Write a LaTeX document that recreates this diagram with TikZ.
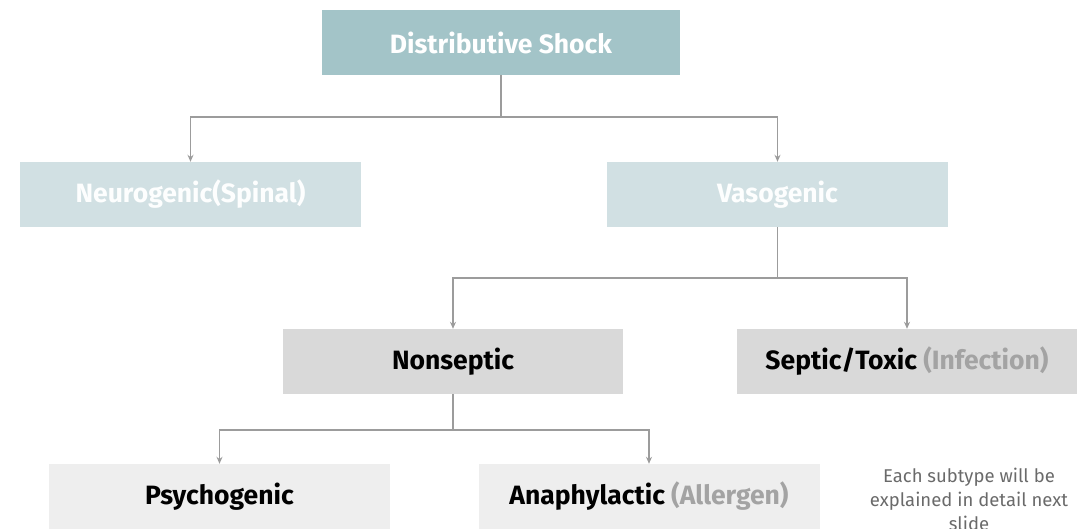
\documentclass[tikz,border=0pt]{standalone}
\usepackage{fontspec}
\setmainfont{Fira Sans}
\usetikzlibrary{arrows.meta}
\definecolor{tealbox}{HTML}{A3C4C8}
\definecolor{lightteal}{HTML}{D1E0E3}
\definecolor{midgray}{HTML}{D9D9D9}
\definecolor{palegray}{HTML}{EEEEEE}
\definecolor{linegray}{HTML}{9C9C9C}
\definecolor{softtext}{HTML}{A3A3A3}
\definecolor{notetext}{HTML}{6A6A6A}
\begin{document}
\begin{tikzpicture}[x=1pt,y=-1pt,
  box/.style={rectangle, minimum height=65pt, inner sep=0pt, font=\fontsize{26.5}{30}\selectfont\bfseries},
  topbox/.style={box, fill=tealbox, text=white, minimum width=358pt},
  midbox/.style={box, fill=lightteal, text=white!96!lightteal, minimum width=341pt},
  lowbox/.style={box, fill=midgray, text=black, minimum width=340pt},
  leafbox/.style={box, fill=palegray, text=black, minimum width=341pt},
  conn/.style={draw=linegray, line width=1.4pt, -{Stealth[length=7pt,width=6pt]}},
  note/.style={align=center, text=notetext, font=\fontsize{18.5}{24}\selectfont}
]
\useasboundingbox (0,0) rectangle (1079,529);

\node[topbox] (ds) at (501,42.5) {Distributive Shock};
\node[midbox] (neu) at (190.5,194.5) {Neurogenic(Spinal)};
\node[midbox] (vaso) at (777.5,194.5) {Vasogenic};
\node[lowbox] (non) at (453,361.5) {Nonseptic};
\node[lowbox] (sep) at (907,361.5) {Septic/Toxic \textcolor{softtext}{(Infection)}};
\node[leafbox] (psy) at (219.5,496.5) {Psychogenic};
\node[leafbox] (ana) at (649,496.5) {Anaphylactic \textcolor{softtext}{(Allergen)}};

% side note; the base anchor sits on the last line, which runs off the lower edge
\node[note, anchor=base] (nt) at (969,530) {Each subtype will be\\explained in detail next\\slide};

\coordinate (j1) at (501,117);
\coordinate (j2) at (777.5,278);
\coordinate (j3) at (453,430);

\draw[draw=linegray, line width=1.4pt] (ds.south) -- (j1);
\draw[conn] (j1) -| (neu.north);
\draw[conn] (j1) -| (vaso.north);

\draw[draw=linegray, line width=1.4pt] (vaso.south) -- (j2);
\draw[conn] (j2) -| (non.north);
\draw[conn] (j2) -| (sep.north);

\draw[draw=linegray, line width=1.4pt] (non.south) -- (j3);
\draw[conn] (j3) -| (psy.north);
\draw[conn] (j3) -| (ana.north);
\end{tikzpicture}
\end{document}
